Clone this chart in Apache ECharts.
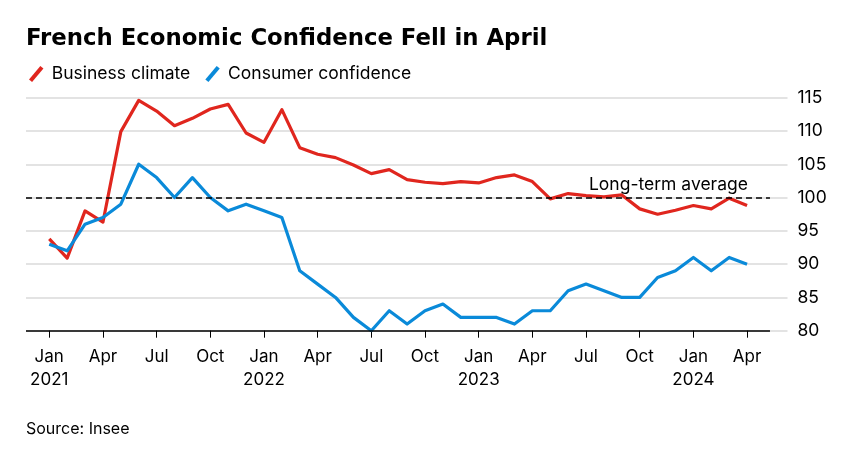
<!DOCTYPE html>
<html>
<head>
<meta charset="utf-8">
<script src="https://cdn.jsdelivr.net/npm/echarts@6/dist/echarts.min.js"></script>
<style>
html,body{margin:0;padding:0;background:#fff;}
#chart{width:853px;height:456px;}
</style>
</head>
<body>
<div id="chart"></div>
<script>
const months = [
  '2021-01','2021-02','2021-03','2021-04','2021-05','2021-06','2021-07','2021-08','2021-09','2021-10','2021-11','2021-12',
  '2022-01','2022-02','2022-03','2022-04','2022-05','2022-06','2022-07','2022-08','2022-09','2022-10','2022-11','2022-12',
  '2023-01','2023-02','2023-03','2023-04','2023-05','2023-06','2023-07','2023-08','2023-09','2023-10','2023-11','2023-12',
  '2024-01','2024-02','2024-03','2024-04'
];
const businessClimate = [
  93.8, 90.9, 98.0, 96.3, 109.9, 114.6, 113.0, 110.8, 111.9, 113.3, 114.0, 109.7,
  108.3, 113.2, 107.5, 106.5, 106.0, 104.9, 103.6, 104.2, 102.7, 102.3, 102.1, 102.4,
  102.2, 103.0, 103.4, 102.4, 99.8, 100.6, 100.3, 100.1, 100.4, 98.3, 97.5, 98.1,
  98.8, 98.3, 99.9, 98.8
];
const consumerConfidence = [
  93, 92, 96, 97, 99, 105, 103, 100, 103, 100, 98, 99,
  98, 97, 89, 87, 85, 82, 80, 83, 81, 83, 84, 82,
  82, 82, 81, 83, 83, 86, 87, 86, 85, 85, 88, 89,
  91, 89, 91, 90
];
const tickMonths = ['2021-01','2021-04','2021-07','2021-10','2022-01','2022-04','2022-07','2022-10','2023-01','2023-04','2023-07','2023-10','2024-01','2024-04'];
const tickLabels = ['Jan\n2021','Apr','Jul','Oct','Jan\n2022','Apr','Jul','Oct','Jan\n2023','Apr','Jul','Oct','Jan\n2024','Apr'];
const longTermAverage = 100;

const tickIdx = tickMonths.map(m => months.indexOf(m));
const FONT = 'Inter, Liberation Sans, Arial, sans-serif';
const TITLE_FONT = 'DejaVu Sans, Liberation Sans, Arial, sans-serif';
const X_MIN = -1.30, X_END = 40.28, X_MAX = 41.26;

const chart = echarts.init(document.getElementById('chart'), null, {renderer: 'canvas'});
chart.setOption({
  animation: false,
  backgroundColor: '#fff',
  title: {
    text: 'French Economic Confidence Fell in April',
    left: 21, top: 23,
    textStyle: {fontFamily: TITLE_FONT, fontWeight: 'bold', fontSize: 22.8, color: '#000'}
  },
  legend: {
    left: 24, top: 60,
    itemWidth: 15, itemHeight: 16, itemGap: 15,
    textStyle: {fontFamily: FONT, fontSize: 17.5, color: '#000', padding: [0, 0, 0, 3]},
    data: [
      {name: 'Business climate', icon: 'path://M0,13 L11,0 L14,2.5 L3,15.5 Z'},
      {name: 'Consumer confidence', icon: 'path://M0,13 L11,0 L14,2.5 L3,15.5 Z'}
    ]
  },
  graphic: [{
    type: 'text', left: 26, top: 421,
    style: {text: 'Source: Insee', fontFamily: FONT, fontSize: 16, fill: '#000'}
  }],
  grid: {left: 26, right: 65.5, top: 97.7, bottom: 125.3, containLabel: false},
  xAxis: {
    type: 'value', min: X_MIN, max: X_MAX,
    axisLine: {show: false},
    splitLine: {show: false},
    axisTick: {show: true, customValues: tickIdx, length: 7, lineStyle: {color: '#000', width: 1}},
    axisLabel: {
      customValues: tickIdx,
      fontFamily: FONT, fontSize: 17, color: '#000', lineHeight: 23, margin: 15,
      formatter: v => tickLabels[tickIdx.indexOf(Math.round(v))] || ''
    }
  },
  yAxis: {
    type: 'value', position: 'right', min: 80, max: 115, interval: 5,
    axisLine: {show: false}, axisTick: {show: false},
    splitLine: {show: true, lineStyle: {color: '#dadada', width: 1.5}},
    axisLabel: {fontFamily: FONT, fontSize: 17.5, color: '#000', margin: 10, align: 'left'}
  },
  series: [
    {
      name: 'Business climate', type: 'line', symbol: 'none',
      color: '#e0261e',
      lineStyle: {width: 3.2, color: '#e0261e', join: 'round'},
      data: businessClimate.map((v, i) => [i, v]),
      z: 3
    },
    {
      name: 'Consumer confidence', type: 'line', symbol: 'none',
      color: '#0a8ad9',
      lineStyle: {width: 3.2, color: '#0a8ad9', join: 'round'},
      data: consumerConfidence.map((v, i) => [i, v]),
      z: 3,
      markLine: {
        silent: true, symbol: 'none',
        data: [
          [{coord: [X_MIN, longTermAverage]}, {coord: [X_END, longTermAverage]}],
          [{coord: [X_MIN, 80]}, {coord: [X_END, 80]}]
        ].map((d, k) => {
          if (k === 0) {
            d[0].lineStyle = {color: '#000', type: [6, 4], width: 1.5};
            d[0].label = {show: true, position: 'insideEndTop', formatter: 'Long-term average',
              fontFamily: FONT, fontSize: 17.5, color: '#000', distance: [22, 4]};
          } else {
            d[0].lineStyle = {color: '#000', type: 'solid', width: 1.5};
            d[0].label = {show: false};
          }
          return d;
        })
      }
    }
  ]
});
</script>
</body>
</html>
